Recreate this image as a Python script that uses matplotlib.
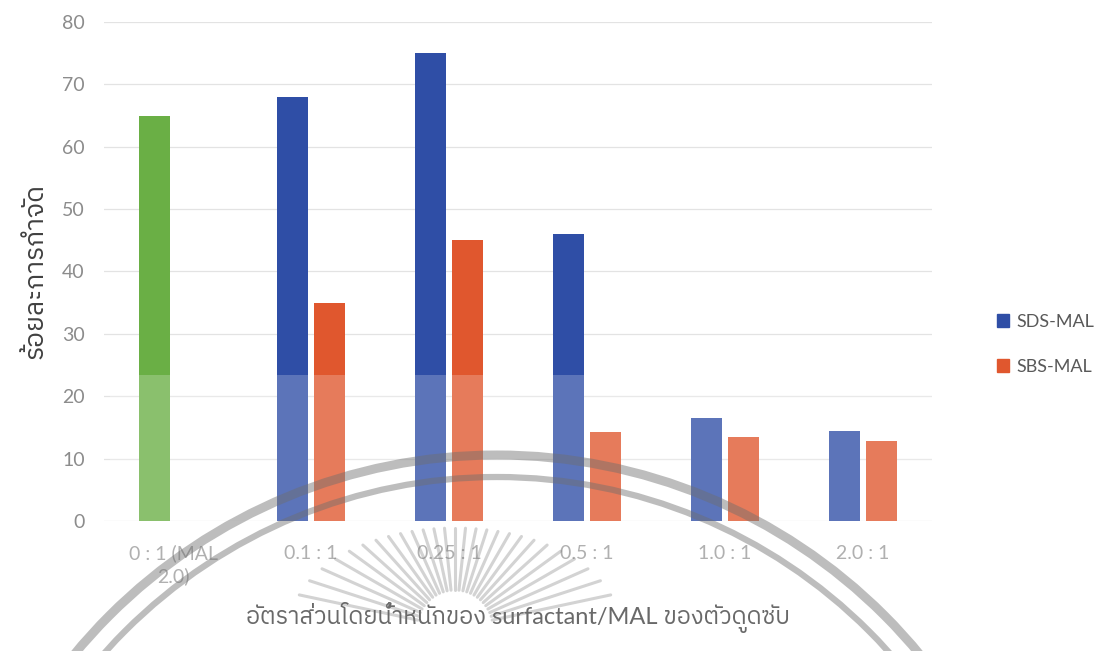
import matplotlib
matplotlib.use("Agg")
import matplotlib.pyplot as plt
from matplotlib import font_manager
from matplotlib.ft2font import FT2Font
from matplotlib.patches import Arc, Patch, Rectangle
import numpy as np

# removal efficiency (%) per surfactant/MAL weight ratio
categories = ["0 : 1 (MAL\n2.0)", "0.1 : 1", "0.25 : 1", "0.5 : 1", "1.0 : 1", "2.0 : 1"]
sds_mal = [65, 68, 75, 46, 16.5, 14.4]
sbs_mal = [None, 35, 45, 14.3, 13.5, 12.8]
series_names = ["SDS-MAL", "SBS-MAL"]


def find_thai_family():
    # pick an installed font that actually has Thai glyphs
    found = []
    for f in font_manager.fontManager.ttflist:
        try:
            cmap = FT2Font(f.fname).get_charmap()
        except Exception:
            continue
        if ord("ก") in cmap and ord("ำ") in cmap:
            found.append(f.name)
    if not found:
        return None
    for name in found:
        if "Thai" in name:
            return name
    return found[0]


thai = find_thai_family()
families = ["Lato"] + ([thai] if thai else []) + ["DejaVu Sans"]
plt.rcParams["font.family"] = families

blue = "#2F4EA6"
orange = "#E0572E"
green = "#6AAF45"
tick_grey = "#8C8C8C"

fig = plt.figure(figsize=(11.01, 6.51), dpi=100)
ax = fig.add_axes([0.0945, 0.1997, 0.752, 0.7665])

x = np.arange(len(categories))
w = 0.22
off = 0.135

sds_colors = [green] + [blue] * (len(categories) - 1)
ax.bar(x - off, sds_mal, width=w, color=sds_colors, zorder=3)
sbs_x = [xi + off for xi, v in zip(x, sbs_mal) if v is not None]
sbs_v = [v for v in sbs_mal if v is not None]
ax.bar(sbs_x, sbs_v, width=w, color=orange, zorder=3)

ax.set_xlim(-0.5, 5.5)
ax.set_ylim(0, 80)
ax.set_yticks(range(0, 81, 10))
ax.set_xticks(x)
ax.set_xticklabels(categories, fontsize=14, color="#9A9A9A", linespacing=1.3)
for lbl in ax.get_xticklabels():
    lbl.set_multialignment("center")
ax.tick_params(axis="y", labelsize=14, colors=tick_grey, length=0, pad=14)
ax.tick_params(axis="x", length=0, pad=17)
ax.grid(axis="y", color="#E3E3E3", linewidth=0.9, zorder=0)
for s in ax.spines.values():
    s.set_visible(False)

ax.set_ylabel("ร้อยละการกำจัด", fontsize=19, color="#404040", labelpad=10)
ax.set_xlabel("อัตราส่วนโดยน้ำหนักของ surfactant/MAL ของตัวดูดซับ",
              fontsize=17, color="#404040", labelpad=12)

handles = [Patch(color=blue), Patch(color=orange)]
fig.legend(handles, series_names, loc="center left", bbox_to_anchor=(0.897, 0.471),
           frameon=False, fontsize=13, handlelength=0.7, handleheight=0.7,
           handletextpad=0.4, labelspacing=1.6, borderpad=0,
           labelcolor="#595959")

# faded seal stamped over the lower half of the page
over = fig.add_axes([0, 0, 1, 1], zorder=10)
over.set_xlim(0, 1101)
over.set_ylim(651, 0)
over.axis("off")
seal_grey = "#6E6E6E"
over.add_patch(Rectangle((110, 375), 900, 276, facecolor="white", alpha=0.22,
                         edgecolor="none"))
over.add_patch(Arc((497, 1003), 2 * 548, 2 * 548, theta1=180, theta2=360,
                   color=seal_grey, lw=6.5, alpha=0.45))
over.add_patch(Arc((497, 1003), 2 * 526, 2 * 526, theta1=180, theta2=360,
                   color=seal_grey, lw=4.5, alpha=0.45))

# sunburst rays in the middle of the seal
cx, cy = 455, 628
for ang in np.linspace(12, 168, 27):
    t = np.radians(ang)
    r_out = 1.0 / np.sqrt((np.cos(t) / 165) ** 2 + (np.sin(t) / 100) ** 2)
    r_in = 38
    over.plot([cx + r_in * np.cos(t), cx + r_out * np.cos(t)],
              [cy - r_in * np.sin(t), cy - r_out * np.sin(t)],
              color=seal_grey, lw=2.2, alpha=0.3, solid_capstyle="round")

fig.savefig("out.png", dpi=100)
